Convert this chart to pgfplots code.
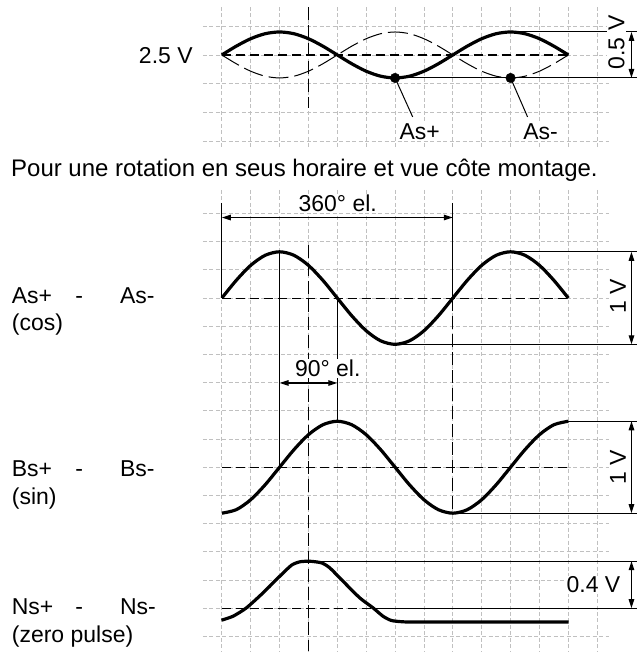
\documentclass[border=0pt]{standalone}
\usepackage{fontspec}
\setmainfont{Liberation Sans}
\usepackage{pgfplots}
\usepackage{pgfplotstable}
\pgfplotsset{compat=1.18}
\usetikzlibrary{arrows.meta}

\definecolor{gridgray}{RGB}{192,192,192}
\newcommand\lab{\fontsize{23bp}{27bp}\selectfont}

% x in px, the three sine-like traces (As+, As-, cos, sin) in px
\pgfplotstableread{
x      asp   asm   cosv   sinv
222.00 55.00 55.00 298.30 513.60
236.45 46.20 63.80 280.58 510.10
250.90 38.74 71.26 265.56 500.13
265.35 33.75 76.25 255.52 485.20
279.80 32.00 78.00 252.00 467.60
294.25 33.75 76.25 255.52 450.00
308.70 38.74 71.26 265.56 435.07
323.15 46.20 63.80 280.58 425.10
337.60 55.00 55.00 298.30 421.60
352.05 63.80 46.20 316.02 425.10
366.50 71.26 38.74 331.04 435.07
380.95 76.25 33.75 341.08 450.00
395.40 78.00 32.00 344.60 467.60
409.85 76.25 33.75 341.08 485.20
424.30 71.26 38.74 331.04 500.13
438.75 63.80 46.20 316.02 510.10
453.20 55.00 55.00 298.30 513.60
467.65 46.20 63.80 280.58 510.10
482.10 38.74 71.26 265.56 500.13
496.55 33.75 76.25 255.52 485.20
511.00 32.00 78.00 252.00 467.60
525.45 33.75 76.25 255.52 450.00
539.90 38.74 71.26 265.56 435.07
554.35 46.20 63.80 280.58 425.10
568.80 55.00 55.00 298.30 421.60
}\signals

% zero pulse
\pgfplotstableread{
x     y
221.7 620.7
233.3 616.7
246.7 608.3
263.3 593.3
280.0 576.7
291.7 565.7
300.0 562.3
310.0 561.7
321.7 563.3
330.0 568.3
343.3 581.7
360.0 598.3
373.3 608.3
383.3 616.7
391.7 621.0
403.3 622.3
420.0 622.5
569.0 622.5
}\pulse

\begin{document}
\begin{tikzpicture}[
    gridl/.style={gridgray, line width=0.8bp, dash pattern=on 4bp off 2.5bp},
    thin/.style={black, line width=1bp},
    base/.style={black, line width=1.1bp, dash pattern=on 9bp off 5bp},
    vdash/.style={black, line width=1.1bp, dash pattern=on 13bp off 5bp},
    dim/.style={black, line width=1.3bp, {Triangle[length=9bp,width=5.5bp]}-{Triangle[length=9bp,width=5.5bp]}},
    trace/.style={black, line width=3.2bp, smooth, line join=round},
    tag/.style={font=\lab, fill=white, inner sep=1bp},
  ]
\begin{axis}[
    x=1bp, y=1bp, y dir=reverse,
    xmin=0, xmax=640, ymin=0, ymax=652,
    hide axis, clip=false,
    at={(0,0)}, anchor=north west,
  ]
\path (axis cs:0,0) rectangle (axis cs:640,652);

% grid, upper block
\pgfplotsinvokeforeach{26.1,55.0,83.9,112.8,141.7}{
  \draw[gridl] (axis cs:203,#1) -- (axis cs:612,#1);}
\pgfplotsinvokeforeach{222,250.9,279.8,308.7,337.6,366.5,395.4,424.3,453.2,482.1,511,539.9,568.8,597.7}{
  \draw[gridl] (axis cs:#1,7) -- (axis cs:#1,150);}
% grid, lower block
\pgfplotsinvokeforeach{213.6,241.82,270.04,298.26,326.48,354.7,382.92,411.14,439.36,467.58,495.8,524.02,552.24,580.46,608.68,636.9}{
  \draw[gridl] (axis cs:203,#1) -- (axis cs:612,#1);}
\pgfplotsinvokeforeach{222,250.9,279.8,308.7,337.6,366.5,395.4,424.3,453.2,482.1,511,539.9,568.8,597.7}{
  \draw[gridl] (axis cs:#1,190) -- (axis cs:#1,652);}

% baselines
\draw[base] (axis cs:222,55) -- (axis cs:568.8,55);
\draw[base] (axis cs:222,298.3) -- (axis cs:568.8,298.3);
\draw[base] (axis cs:222,467.6) -- (axis cs:568.8,467.6);
\draw[base] (axis cs:222,608.7) -- (axis cs:373,608.7);

% vertical markers
\draw[vdash] (axis cs:308.7,7) -- (axis cs:308.7,108);
\draw[vdash] (axis cs:308.7,245) -- (axis cs:308.7,652);
\draw[vdash] (axis cs:453.2,298.3) -- (axis cs:453.2,513.6);
\draw[thin] (axis cs:222,203) -- (axis cs:222,298.3);
\draw[thin] (axis cs:453.2,203) -- (axis cs:453.2,298.3);
\draw[thin] (axis cs:279.8,252) -- (axis cs:279.8,467.6);
\draw[thin] (axis cs:337.6,298.3) -- (axis cs:337.6,421.6);

% extension lines
\draw[thin] (axis cs:511,32) -- (axis cs:638,32);
\draw[thin] (axis cs:395.4,78) -- (axis cs:638,78);
\draw[thin] (axis cs:511,252) -- (axis cs:638,252);
\draw[thin] (axis cs:395.4,344.6) -- (axis cs:638,344.6);
\draw[thin] (axis cs:568.8,421.6) -- (axis cs:638,421.6);
\draw[thin] (axis cs:453.2,513.6) -- (axis cs:638,513.6);
\draw[thin] (axis cs:320,561.7) -- (axis cs:638,561.7);
\draw[thin] (axis cs:373,608.7) -- (axis cs:638,608.7);

% dimension arrows
\draw[dim] (axis cs:222,217.7) -- (axis cs:453.2,217.7);
\draw[dim] (axis cs:279.8,383.3) -- (axis cs:337.6,383.3);
\draw[dim] (axis cs:632,32) -- (axis cs:632,78);
\draw[dim] (axis cs:632,252) -- (axis cs:632,344.6);
\draw[dim] (axis cs:632,421.6) -- (axis cs:632,513.6);
\draw[dim] (axis cs:632,561.7) -- (axis cs:632,608.7);

% traces
\addplot[black, line width=1bp, smooth, dash pattern=on 20bp off 6bp] table[x=x, y=asm] {\signals};
\addplot[trace] table[x=x, y=asp] {\signals};
\addplot[trace] table[x=x, y=cosv] {\signals};
\addplot[trace] table[x=x, y=sinv] {\signals};
\addplot[trace, tension=0.4] table[x=x, y=y] {\pulse};

% As+ / As- points and leaders
\draw[thin] (axis cs:395.4,78) -- (axis cs:413,117);
\draw[thin] (axis cs:511,78) -- (axis cs:528,117);
\addplot[only marks, mark=*, mark size=4.8bp, black] coordinates {(395.4,78) (511,78)};

% text
\node[font=\lab, anchor=base east, inner sep=0] at (axis cs:193,64) {2.5 V};
\node[tag, anchor=base] at (axis cs:420,140) {As+};
\node[tag, anchor=base] at (axis cs:541,140) {As-};
\node[tag, anchor=base, rotate=90] at (axis cs:625,42.5) {0.5 V};
\node[font=\fontsize{24bp}{28bp}\selectfont, anchor=base west, inner sep=0] at (axis cs:11,176.7) {Pour une rotation en seus horaire et vue côte montage.};
\node[tag, anchor=base] at (axis cs:338,211.7) {360° el.};
\node[tag, anchor=base] at (axis cs:328,376.7) {90° el.};
\node[tag, anchor=base, rotate=90] at (axis cs:626.5,296.7) {1 V};
\node[tag, anchor=base, rotate=90] at (axis cs:626.5,467.5) {1 V};
\node[tag, anchor=base] at (axis cs:594,593.3) {0.4 V};

\node[font=\lab, anchor=base west, inner sep=0] at (axis cs:11.7,303.3) {As+};
\node[font=\lab, anchor=base, inner sep=0] at (axis cs:79.3,303.3) {-};
\node[font=\lab, anchor=base west, inner sep=0] at (axis cs:120,303.3) {As-};
\node[font=\lab, anchor=base west, inner sep=0] at (axis cs:11.7,331) {(cos)};
\node[font=\lab, anchor=base west, inner sep=0] at (axis cs:11.7,476.7) {Bs+};
\node[font=\lab, anchor=base, inner sep=0] at (axis cs:79.3,476.7) {-};
\node[font=\lab, anchor=base west, inner sep=0] at (axis cs:120,476.7) {Bs-};
\node[font=\lab, anchor=base west, inner sep=0] at (axis cs:11.7,505) {(sin)};
\node[font=\lab, anchor=base west, inner sep=0] at (axis cs:11.7,615) {Ns+};
\node[font=\lab, anchor=base, inner sep=0] at (axis cs:79.3,615) {-};
\node[font=\lab, anchor=base west, inner sep=0] at (axis cs:120,615) {Ns-};
\node[font=\lab, anchor=base west, inner sep=0] at (axis cs:11.7,643) {(zero pulse)};
\end{axis}
\end{tikzpicture}
\end{document}
